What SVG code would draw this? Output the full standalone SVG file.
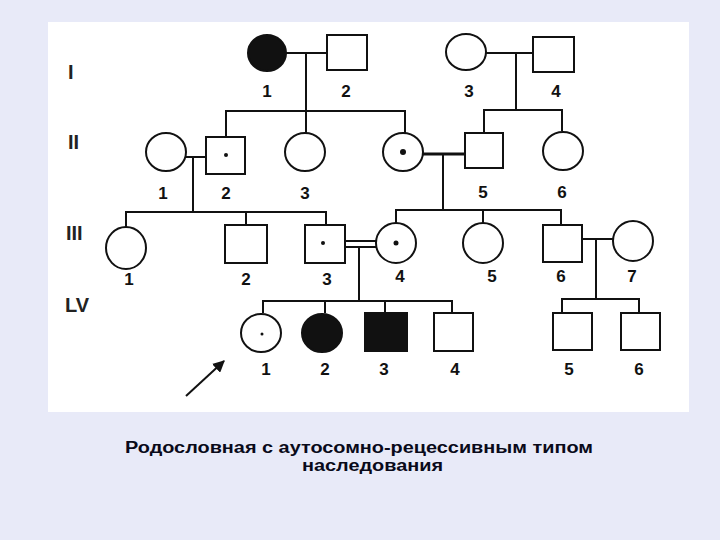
<svg xmlns="http://www.w3.org/2000/svg" width="720" height="540" viewBox="0 0 720 540">
<style>
.bg{fill:#e8eaf8}
.panel{fill:#ffffff}
.c{fill:#ffffff;stroke:#111;stroke-width:2}
.f{fill:#111;stroke:#111;stroke-width:2}
.l{fill:none;stroke:#111;stroke-width:2}
.dot{fill:#111}
.n{font-family:"Liberation Sans",Arial,sans-serif;font-weight:bold;font-size:17px;fill:#111;text-anchor:middle}
.g{font-family:"Liberation Sans",Arial,sans-serif;font-weight:bold;font-size:20px;fill:#222}
.cap{font-family:"Liberation Sans",Arial,sans-serif;font-weight:bold;font-size:16px;fill:#0a0a1a}
</style>
<defs>
<marker id="ah" viewBox="0 0 10 10" refX="9" refY="5" markerWidth="6" markerHeight="6" orient="auto"><path d="M0,0 L10,5 L0,10 z" fill="#111"/></marker>
</defs>
<rect class="bg" x="0" y="0" width="720" height="540"/>
<rect class="panel" x="48" y="22" width="641" height="390"/>

<g id="gen-labels">
<text class="g" x="68" y="79">I</text>
<text class="g" x="68" y="149">II</text>
<text class="g" x="66" y="240">III</text>
<text class="g" x="65" y="312">LV</text>
</g>

<g id="connectors">
<line class="l" x1="286" y1="53" x2="327" y2="53"/>
<line class="l" x1="306" y1="53" x2="306" y2="133"/>
<polyline class="l" points="226,137 226,111 405,111 405,133"/>
<line class="l" x1="486" y1="53" x2="533" y2="53"/>
<line class="l" x1="516" y1="53" x2="516" y2="110"/>
<polyline class="l" points="484,133 484,110 562,110 562,131"/>
<line class="l" x1="186" y1="157" x2="206" y2="157"/>
<line class="l" x1="193" y1="157" x2="193" y2="212"/>
<polyline class="l" points="126,227 126,212 326,212 326,225"/>
<line class="l" x1="246" y1="212" x2="246" y2="225"/>
<line class="l" x1="423" y1="154" x2="465" y2="154" style="stroke-width:3"/>
<line class="l" x1="443" y1="154" x2="443" y2="210"/>
<polyline class="l" points="396,223 396,210 561,210 561,225"/>
<line class="l" x1="483" y1="210" x2="483" y2="223"/>
<line class="l" x1="345" y1="241" x2="377" y2="241"/>
<line class="l" x1="345" y1="247" x2="377" y2="247"/>
<line class="l" x1="359" y1="247" x2="359" y2="301"/>
<polyline class="l" points="263,313 263,301 452,301 452,313"/>
<line class="l" x1="325" y1="301" x2="325" y2="313"/>
<line class="l" x1="385" y1="301" x2="385" y2="313"/>
<line class="l" x1="582" y1="239" x2="613" y2="239"/>
<line class="l" x1="596" y1="239" x2="596" y2="299"/>
<polyline class="l" points="562,313 562,299 639,299 639,313"/>
</g>

<g id="I-1"><ellipse class="f" cx="267" cy="53" rx="19" ry="18"/><text class="n" x="267" y="97">1</text></g>
<g id="I-2"><rect class="c" x="327" y="35" width="40" height="35"/><text class="n" x="346" y="97">2</text></g>
<g id="I-3"><ellipse class="c" cx="466" cy="52" rx="20" ry="18"/><text class="n" x="469" y="97">3</text></g>
<g id="I-4"><rect class="c" x="533" y="37" width="41" height="35"/><text class="n" x="556" y="97">4</text></g>

<g id="II-1"><ellipse class="c" cx="166" cy="152" rx="20" ry="19"/><text class="n" x="163" y="199">1</text></g>
<g id="II-2"><rect class="c" x="206" y="137" width="39" height="37"/><circle class="dot" cx="226" cy="155" r="2"/><text class="n" x="226" y="199">2</text></g>
<g id="II-3"><ellipse class="c" cx="305" cy="152" rx="20" ry="19"/><text class="n" x="305" y="199">3</text></g>
<g id="II-4"><ellipse class="c" cx="403" cy="152" rx="20" ry="19"/><circle class="dot" cx="403" cy="152" r="3"/></g>
<g id="II-5"><rect class="c" x="465" y="133" width="38" height="35"/><text class="n" x="483" y="198">5</text></g>
<g id="II-6"><ellipse class="c" cx="563" cy="151" rx="20" ry="19"/><text class="n" x="562" y="198">6</text></g>

<g id="III-1"><ellipse class="c" cx="126" cy="248" rx="20" ry="21"/><text class="n" x="129" y="285">1</text></g>
<g id="III-2"><rect class="c" x="225" y="225" width="42" height="38"/><text class="n" x="246" y="285">2</text></g>
<g id="III-3"><rect class="c" x="305" y="225" width="40" height="38"/><circle class="dot" cx="323" cy="243" r="2"/><text class="n" x="327" y="285">3</text></g>
<g id="III-4"><ellipse class="c" cx="396" cy="243" rx="20" ry="20"/><circle class="dot" cx="396" cy="243" r="2.5"/><text class="n" x="400" y="282">4</text></g>
<g id="III-5"><ellipse class="c" cx="483" cy="243" rx="20" ry="20"/><text class="n" x="492" y="282">5</text></g>
<g id="III-6"><rect class="c" x="543" y="225" width="39" height="37"/><text class="n" x="561" y="282">6</text></g>
<g id="III-7"><ellipse class="c" cx="633" cy="241" rx="20" ry="20"/><text class="n" x="632" y="282">7</text></g>

<g id="IV-1"><ellipse class="c" cx="261" cy="333" rx="20" ry="19"/><circle class="dot" cx="262" cy="334" r="1.5"/><text class="n" x="266" y="375">1</text></g>
<g id="IV-2"><ellipse class="f" cx="322" cy="333" rx="20" ry="19"/><text class="n" x="325" y="375">2</text></g>
<g id="IV-3"><rect class="f" x="365" y="313" width="42" height="38"/><text class="n" x="384" y="375">3</text></g>
<g id="IV-4"><rect class="c" x="434" y="313" width="39" height="38"/><text class="n" x="455" y="375">4</text></g>
<g id="IV-5"><rect class="c" x="553" y="313" width="39" height="37"/><text class="n" x="569" y="375">5</text></g>
<g id="IV-6"><rect class="c" x="621" y="313" width="39" height="37"/><text class="n" x="639" y="375">6</text></g>

<g id="proband-arrow"><line class="l" x1="186" y1="396" x2="224" y2="361" marker-end="url(#ah)"/></g>

<g id="caption">
<text class="cap" x="125" y="453" textLength="468" lengthAdjust="spacingAndGlyphs">Родословная с аутосомно-рецессивным типом</text>
<text class="cap" x="302" y="471" textLength="141" lengthAdjust="spacingAndGlyphs">наследования</text>
</g>
</svg>
